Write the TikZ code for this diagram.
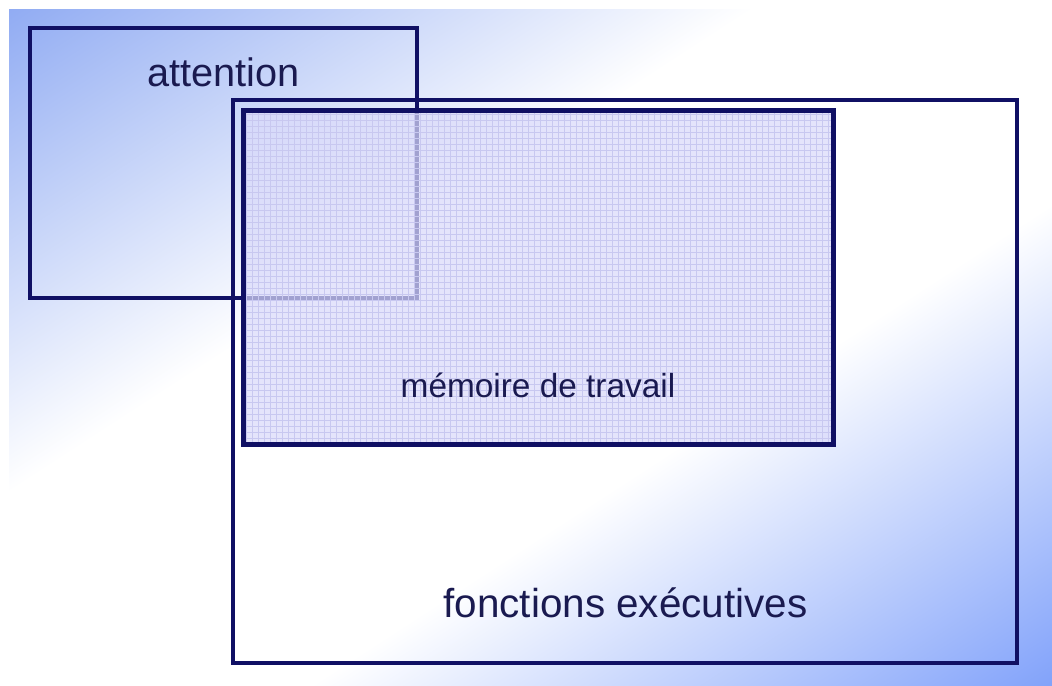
\documentclass[tikz,border=0pt]{standalone}
\usepackage{fontspec}
\setmainfont{Liberation Sans}
\newlength{\du}
\setlength{\du}{0.02cm}
\definecolor{navyline}{RGB}{16,16,100}
\definecolor{navytext}{RGB}{26,26,80}
\definecolor{bgblueA}{RGB}{140,168,242}
\definecolor{bgblueB}{RGB}{124,158,250}
\definecolor{memfill}{RGB}{218,218,250}
\definecolor{memgrid}{RGB}{200,200,240}
\pgfdeclarehorizontalshading{bgdiag}{100bp}{color(0bp)=(bgblueA); color(14bp)=(bgblueA); color(40bp)=(white); color(60bp)=(white); color(86bp)=(bgblueB); color(100bp)=(bgblueB)}
\tikzset{
  boxline/.style={draw=navyline, line width=4\du},
  memline/.style={draw=navyline, line width=5\du},
  boxtext/.style={text=navytext, inner sep=0pt, anchor=base},
}

\begin{document}
\begin{tikzpicture}
\pgftransformxscale{1.000000}
\pgftransformyscale{-1.000000}
\useasboundingbox (0\du,0\du) rectangle (1052\du,686\du);
% background
\shade[shading=bgdiag, shading angle=-57] (9\du,10\du) rectangle (1052\du,686\du);
% fonctions executives
\draw[boxline] (233\du,100\du) rectangle (1017\du,663\du);
% attention
\draw[boxline] (30\du,28\du) rectangle (417\du,298\du);
% memoire de travail
\fill[memfill, fill opacity=0.72] (243\du,111\du) rectangle (833\du,444\du);
\draw[memgrid, line width=0.6\du, step=6\du] (243\du,111\du) grid (833\du,444\du);
\draw[memline] (243\du,111\du) rectangle (833\du,444\du);
% texts
\node[boxtext, font=\fontsize{22.6}{27}\selectfont] (attention) at (223.5\du,87\du){attention};
\node[boxtext, font=\fontsize{19}{23}\selectfont] (memoire) at (538\du,397\du){mémoire de travail};
\node[boxtext, font=\fontsize{23}{27}\selectfont] (fonctions) at (625.5\du,617\du){fonctions exécutives};
\end{tikzpicture}
\end{document}
